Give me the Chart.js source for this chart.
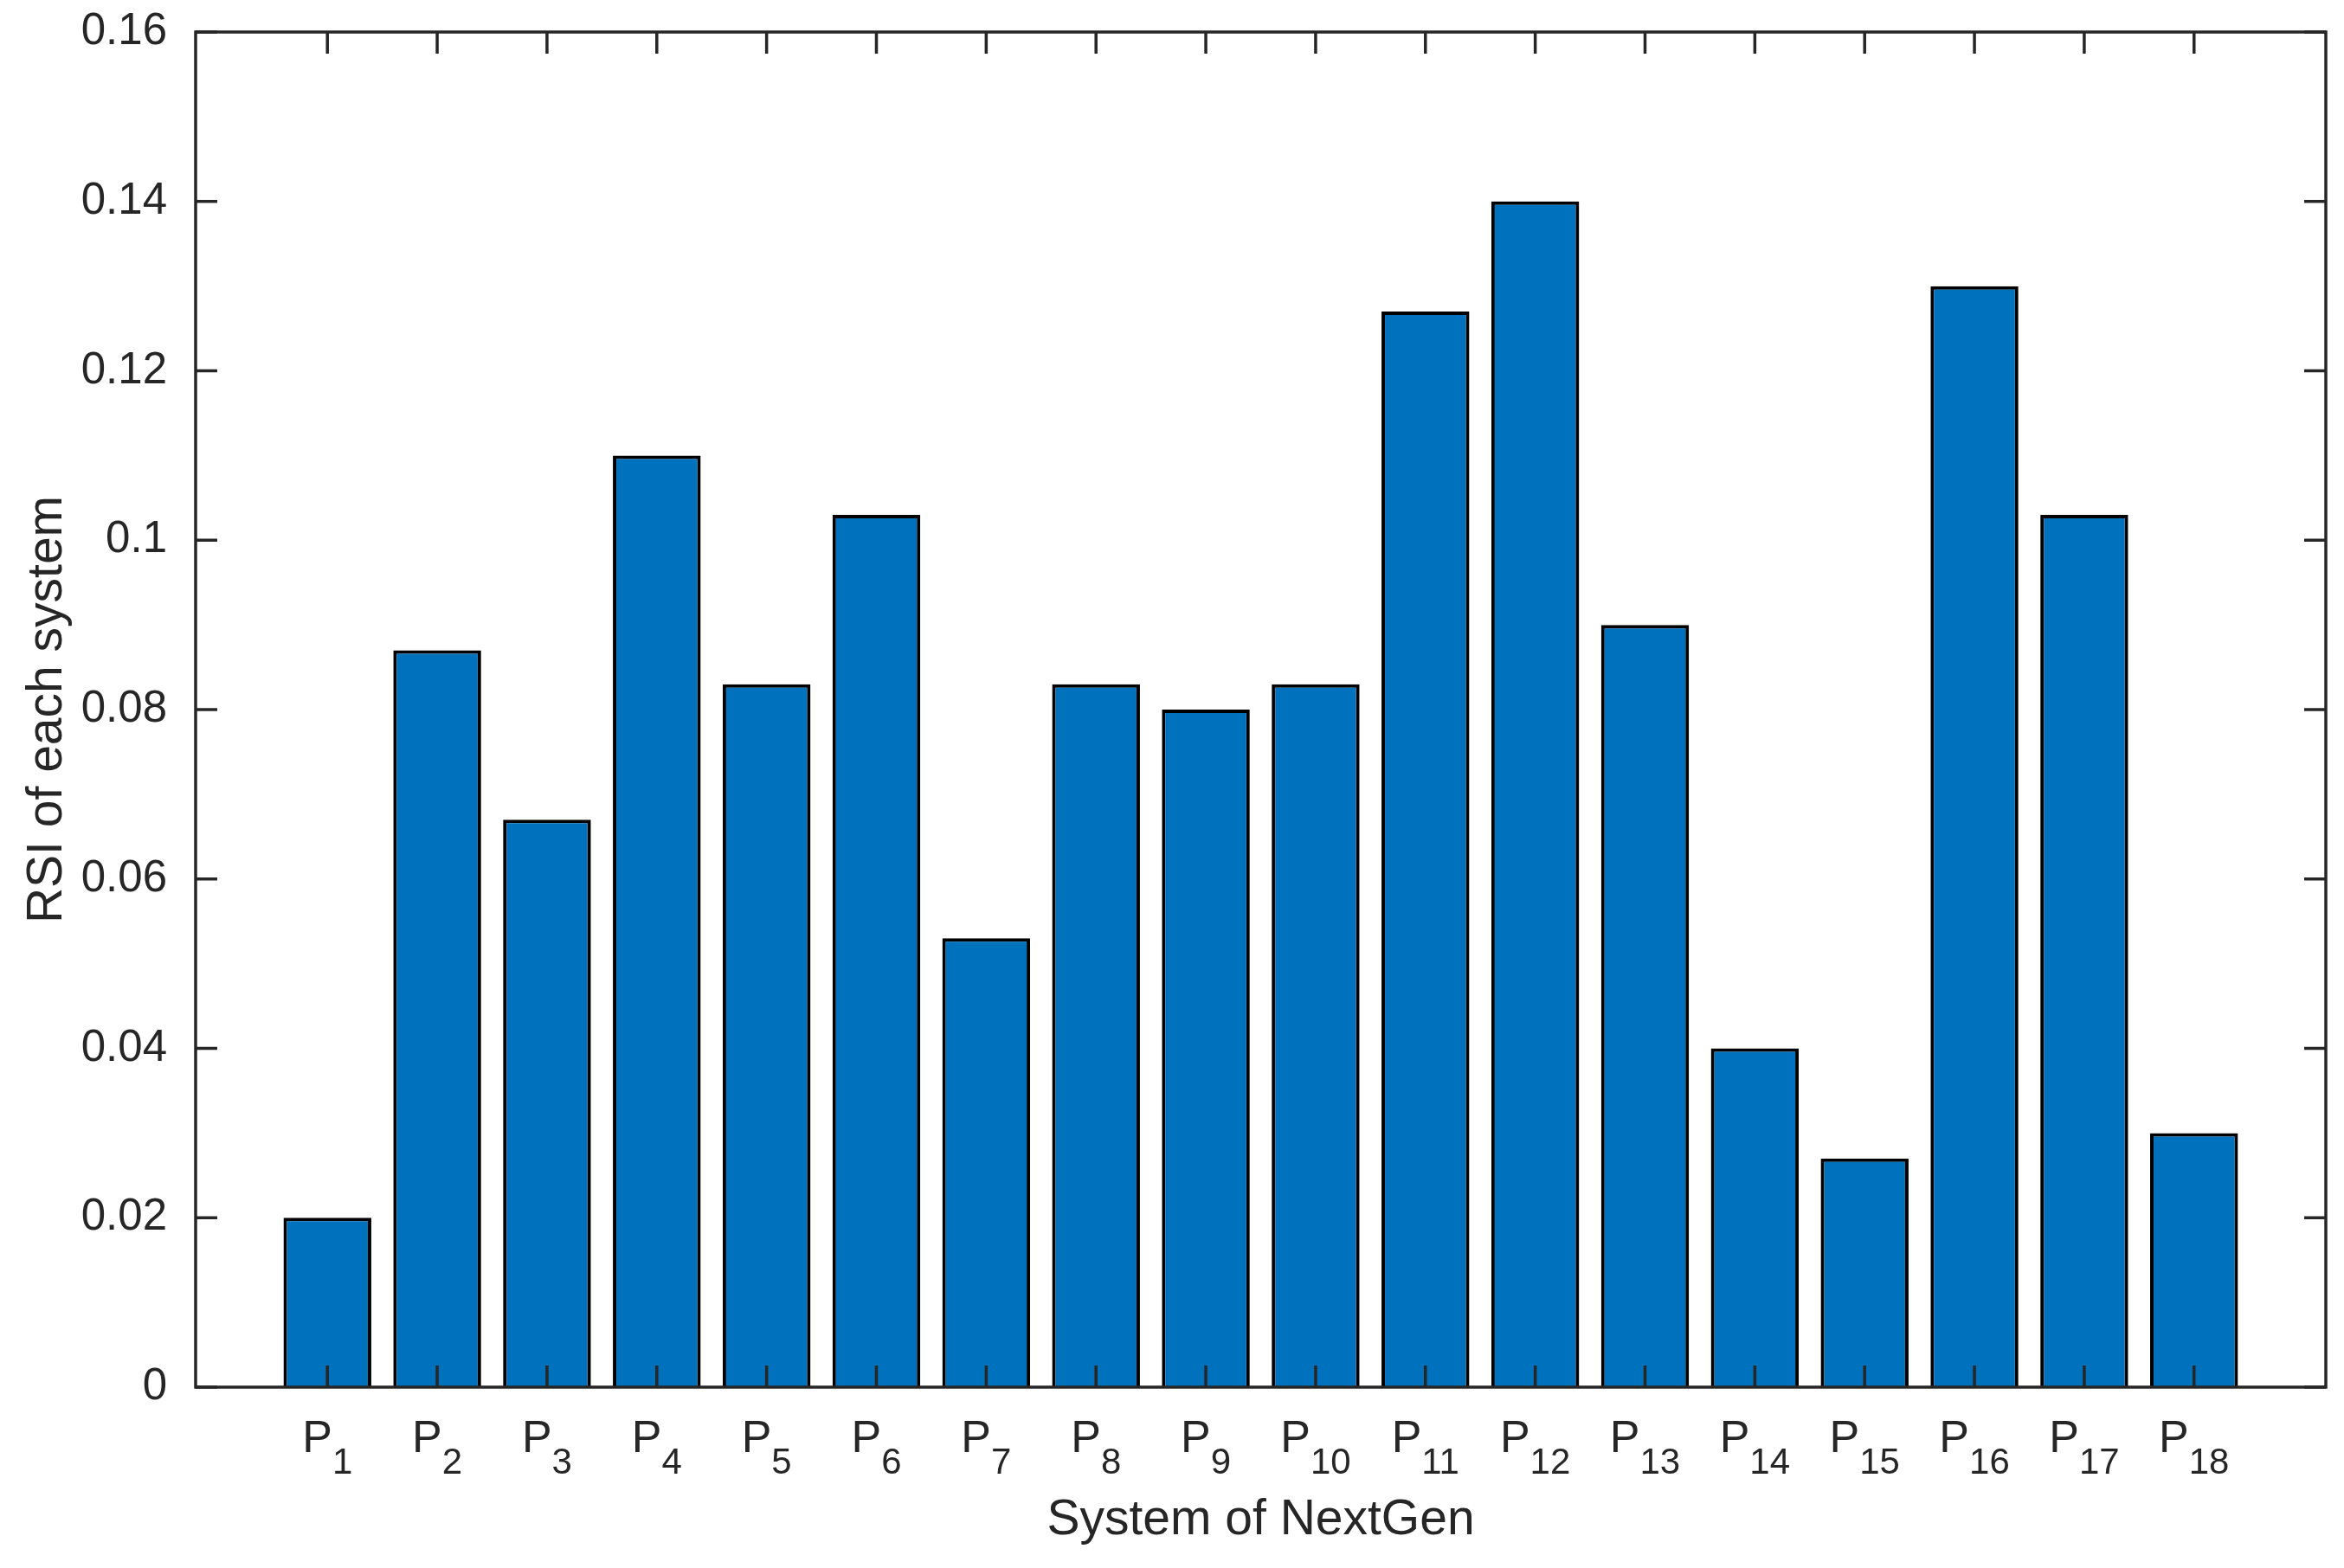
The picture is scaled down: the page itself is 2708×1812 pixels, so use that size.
<!DOCTYPE html>
<html lang="en">
<head>
    <meta charset="UTF-8">
    <title>RSI of each system</title>
    <script src="https://cdn.jsdelivr.net/npm/chart.js"></script>
    <style>
        body { margin: 0; background: #fff; }
        #wrap { width: 2708px; height: 1812px; }
    </style>
</head>
<body>
    <div id="wrap"><canvas id="rsiChart"></canvas></div>

    <script>
        const categories = ['P1', 'P2', 'P3', 'P4', 'P5', 'P6', 'P7', 'P8', 'P9',
                            'P10', 'P11', 'P12', 'P13', 'P14', 'P15', 'P16', 'P17', 'P18'];
        const rsiValues = [0.020, 0.087, 0.067, 0.110, 0.083, 0.103, 0.053, 0.083, 0.080,
                           0.083, 0.127, 0.140, 0.090, 0.040, 0.027, 0.130, 0.103, 0.030];
        const yTickLabels = ['0', '0.02', '0.04', '0.06', '0.08', '0.1', '0.12', '0.14', '0.16'];

        const axisColor = '#262626';
        const fontFamily = '"Liberation Sans", Arial, sans-serif';

        // MATLAB style box: frame, inward ticks and P with subscript labels
        const matlabAxes = {
            id: 'matlabAxes',
            afterDatasetsDraw(chart) {
                const { ctx, chartArea: a, scales: { x, y } } = chart;
                ctx.save();
                ctx.strokeStyle = axisColor;
                ctx.lineWidth = 3.5;
                ctx.beginPath();
                categories.forEach((c, i) => {
                    const px = x.getPixelForValue(i + 1);
                    ctx.moveTo(px, a.bottom); ctx.lineTo(px, a.bottom - 25);
                    ctx.moveTo(px, a.top); ctx.lineTo(px, a.top + 25);
                });
                y.ticks.forEach(t => {
                    const py = y.getPixelForValue(t.value);
                    ctx.moveTo(a.left, py); ctx.lineTo(a.left + 25, py);
                    ctx.moveTo(a.right, py); ctx.lineTo(a.right - 25, py);
                });
                ctx.stroke();
                ctx.strokeRect(a.left, a.top, a.right - a.left, a.bottom - a.top);

                ctx.fillStyle = axisColor;
                ctx.textAlign = 'left';
                ctx.textBaseline = 'alphabetic';
                categories.forEach((c, i) => {
                    const m = c.match(/^(\D+)(\d+)$/);
                    const px = x.getPixelForValue(i + 1);
                    ctx.font = '52px ' + fontFamily;
                    const wMain = ctx.measureText(m[1]).width;
                    ctx.font = '42px ' + fontFamily;
                    const wSub = ctx.measureText(m[2]).width;
                    const start = px - (wMain + wSub) / 2;
                    ctx.font = '52px ' + fontFamily;
                    ctx.fillText(m[1], start, a.bottom + 75);
                    ctx.font = '42px ' + fontFamily;
                    ctx.fillText(m[2], start + wMain, a.bottom + 100);
                });
                ctx.restore();
            }
        };

        const ctx = document.getElementById('rsiChart').getContext('2d');
        new Chart(ctx, {
            type: 'bar',
            data: {
                datasets: [{
                    label: 'RSI',
                    data: rsiValues.map((v, i) => ({ x: i + 1, y: v })),
                    backgroundColor: '#0072BD',
                    borderColor: '#000000',
                    borderWidth: 4,
                    barPercentage: 0.8,
                    categoryPercentage: 1.0
                }]
            },
            plugins: [matlabAxes],
            options: {
                responsive: true,
                maintainAspectRatio: false,
                animation: false,
                devicePixelRatio: 1,
                layout: { padding: { top: 37, right: 21, left: 0, bottom: 0 } },
                plugins: {
                    legend: { display: false },
                    tooltip: { enabled: false }
                },
                scales: {
                    x: {
                        type: 'linear',
                        offset: false,
                        min: -0.2,
                        max: 19.2,
                        grid: { display: false, offset: false },
                        border: { display: false },
                        ticks: { display: false },
                        title: {
                            display: true,
                            text: 'System of NextGen',
                            color: axisColor,
                            font: { family: fontFamily, size: 57 },
                            padding: { top: 0, bottom: 21 }
                        },
                        afterFit: s => {
                            s.height = 209;
                            s.paddingLeft = 0; s.paddingRight = 0;
                        }
                    },
                    y: {
                        min: 0,
                        max: 0.16,
                        grid: { display: false },
                        border: { display: false },
                        ticks: {
                            stepSize: 0.02,
                            padding: 25,
                            color: axisColor,
                            font: { family: fontFamily, size: 51 },
                            callback: (v, i) => yTickLabels[i]
                        },
                        title: {
                            display: true,
                            text: 'RSI of each system',
                            color: axisColor,
                            font: { family: fontFamily, size: 57 },
                            padding: { top: 21, bottom: 0 }
                        },
                        afterFit: s => {
                            s.width = 226;
                            s.paddingTop = 0; s.paddingBottom = 0;
                        }
                    }
                }
            }
        });
    </script>
</body>
</html>
